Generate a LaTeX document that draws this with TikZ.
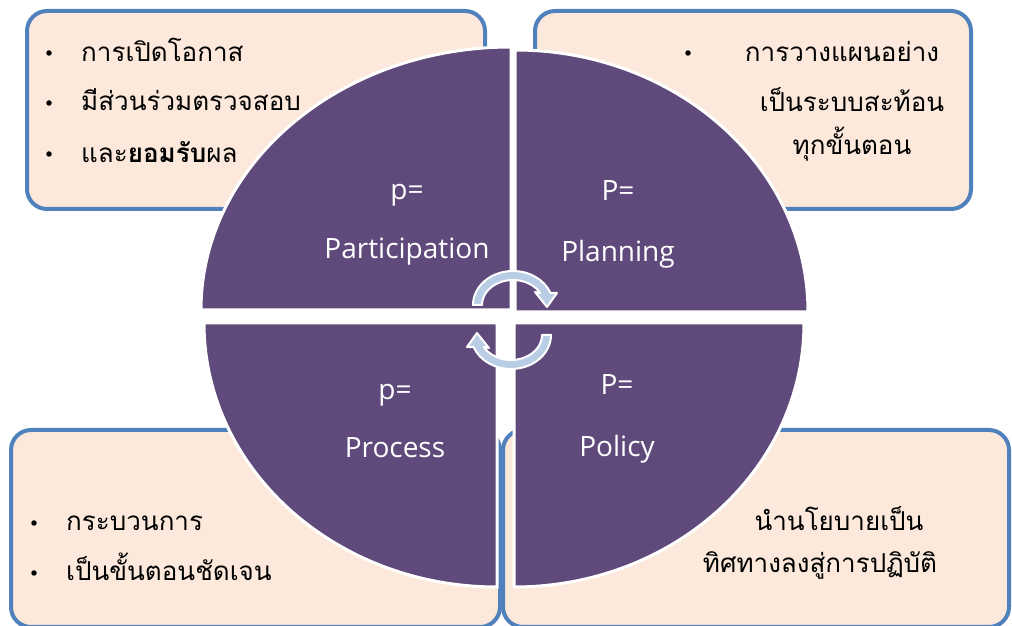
\documentclass[tikz,border=0pt]{standalone}
\usepackage{fontspec}
\newfontfamily\thai[Script=Thai]{Loma}
\newfontfamily\lat{Open Sans}
\definecolor{quadfill}{RGB}{96,74,123}
\definecolor{boxfill}{RGB}{252,233,219}
\definecolor{boxline}{RGB}{79,129,189}
\definecolor{arrfill}{RGB}{185,205,229}
\tikzset{
  infobox/.style={draw=boxline, line width=4pt, fill=boxfill, rounded corners=20pt, inner sep=0pt},
  quadshape/.style={fill=quadfill, draw=white, line width=3pt},
  thaitxt/.style={font=\thai\fontsize{26}{30}\selectfont, text=black, inner sep=0pt},
  bul/.style={circle, fill=black, inner sep=0pt, minimum size=5.5pt},
  qlabel/.style={font=\lat\fontsize{28}{32}\selectfont, text=white, inner sep=0pt, anchor=base},
  cyclearrow/.style={fill=arrfill, draw=white, line width=2pt, line join=round}
}
\begin{document}
\begin{tikzpicture}[x=1pt,y=1pt]
\useasboundingbox (0,0) rectangle (1012,626);
\clip (0,0) rectangle (1012,626);
% boxes
\node[infobox, minimum width=458pt, minimum height=198pt] (tlbox) at (256,516) {};
\node[infobox, minimum width=436pt, minimum height=198pt] (trbox) at (753,516) {};
\node[infobox, minimum width=489pt, minimum height=197pt] (blbox) at (255.5,97.5) {};
\node[infobox, minimum width=506pt, minimum height=197pt] (brbox) at (756,97.5) {};
% box texts
\node[bul] (b1) at (49,573) {};
\node[bul] (b2) at (49,523) {};
\node[bul] (b3) at (49,472) {};
\node[thaitxt, anchor=base west] (t1) at (81,564) {การเปิดโอกาส};
\node[thaitxt, anchor=base west] (t2) at (81,515) {มีส่วนร่วมตรวจสอบ};
\node[thaitxt, anchor=base west] (t3) at (81,463) {และ\textbf{ยอมรับ}ผล};
\node[bul] (b4) at (688,573) {};
\node[thaitxt, anchor=base] (t4) at (842,564) {การวางแผนอย่าง};
\node[thaitxt, anchor=base] (t5) at (852,514) {เป็นระบบสะท้อน};
\node[thaitxt, anchor=base] (t6) at (852,471) {ทุกขั้นตอน};
\node[bul] (b5) at (34,103) {};
\node[bul] (b6) at (34,53) {};
\node[thaitxt, anchor=base west] (t7) at (66,95) {กระบวนการ};
\node[thaitxt, anchor=base west] (t8) at (66,45) {เป็นขั้นตอนชัดเจน};
\node[thaitxt, anchor=base] (t9) at (839,95) {นำนโยบายเป็น};
\node[thaitxt, anchor=base] (t10) at (820,53) {ทิศทางลงสู่การปฏิบัติ};
% quadrants
\path[quadshape] (511,316) -- (201,316) arc[start angle=180, end angle=90, x radius=310, y radius=263] -- cycle;
\path[quadshape] (515,314) -- (808,314) arc[start angle=0, end angle=90, x radius=293, y radius=262] -- cycle;
\path[quadshape] (497,303) -- (204,303) arc[start angle=180, end angle=270, x radius=293, y radius=264] -- cycle;
\path[quadshape] (514,303) -- (804,303) arc[start angle=0, end angle=-90, x radius=290, y radius=264] -- cycle;
% labels
\node[qlabel] (q1a) at (407,426) {p=};
\node[qlabel] (q1b) at (407,367) {Participation};
\node[qlabel] (q2a) at (618,425) {P=};
\node[qlabel] (q2b) at (618,364) {Planning};
\node[qlabel] (q3a) at (395,226) {p=};
\node[qlabel] (q3b) at (395,168) {Process};
\node[qlabel] (q4a) at (617,231) {P=};
\node[qlabel] (q4b) at (617,169) {Policy};
% cycle arrows
\begin{scope}[shift={(513,321)}]
\path[cyclearrow] (-40,0) arc[start angle=180, end angle=20.7, x radius=40, y radius=34]
  -- (44,12) -- (34,-2) -- (22,13) -- (27.2,12)
  arc[start angle=28.7, end angle=180, x radius=31, y radius=25] -- cycle;
\end{scope}
\begin{scope}[shift={(511,291)}, rotate=180]
\path[cyclearrow] (-40,0) arc[start angle=180, end angle=20.7, x radius=40, y radius=34]
  -- (44,12) -- (34,-2) -- (22,13) -- (27.2,12)
  arc[start angle=28.7, end angle=180, x radius=31, y radius=25] -- cycle;
\end{scope}
\end{tikzpicture}
\end{document}
